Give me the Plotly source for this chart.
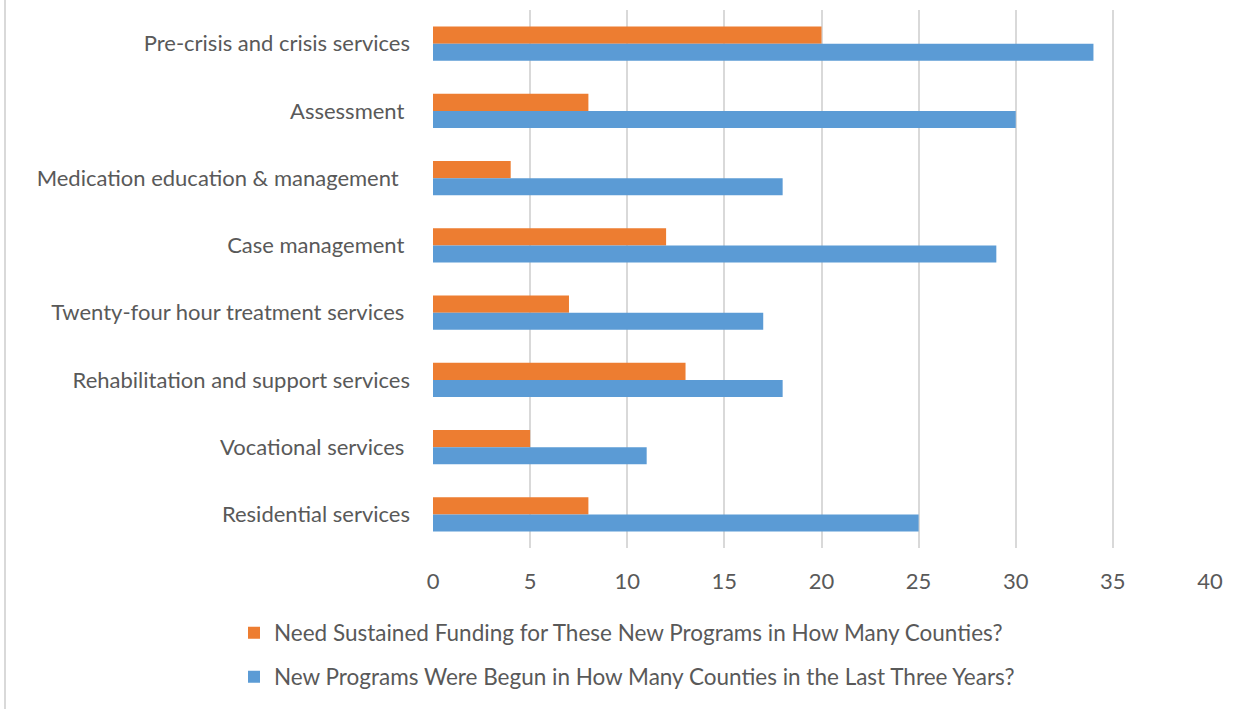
import plotly.graph_objects as go

categories = [
    "Pre-crisis and crisis services",
    "Assessment\u00a0",
    "Medication education & management\u00a0\u00a0",
    "Case management\u00a0",
    "Twenty-four hour treatment services\u00a0",
    "Rehabilitation and support services",
    "Vocational services\u00a0",
    "Residential services",
]
need_funding = [20, 8, 4, 12, 7, 13, 5, 8]
new_programs = [34, 30, 18, 29, 17, 18, 11, 25]
x_ticks = [0, 5, 10, 15, 20, 25, 30, 35, 40]

name_need = "Need Sustained Funding for These New Programs in How Many Counties?"
name_new = "New Programs Were Begun in How Many Counties in the Last Three Years?"

W, H = 1249, 709
ML, MR, MT, MB = 433, 39, 10, 161
PW = W - ML - MR
PH = H - MT - MB

FONT = "Lato"
TXT = "#595959"

fig = go.Figure()
fig.add_trace(go.Bar(
    y=categories, x=need_funding, orientation="h", name=name_need,
    marker=dict(color="#ED7D31", line=dict(width=0)), legend="legend",
))
fig.add_trace(go.Bar(
    y=categories, x=new_programs, orientation="h", name=name_new,
    marker=dict(color="#5B9BD5", line=dict(width=0)), legend="legend2",
))


def px_to_paper_x(px):
    return (px - ML) / PW


def px_to_paper_y(py):
    return 1 - (py - MT) / PH


legend_style = dict(
    font=dict(family=FONT, size=22.5, color=TXT),
    bgcolor="rgba(0,0,0,0)",
    itemwidth=30,
    xanchor="left",
    yanchor="middle",
)

fig.update_layout(
    width=W, height=H,
    margin=dict(l=ML, r=MR, t=MT, b=MB, pad=0),
    paper_bgcolor="white",
    plot_bgcolor="white",
    barmode="group",
    bargap=0.49,
    bargroupgap=0,
    font=dict(family=FONT, size=22, color=TXT),
    xaxis=dict(
        range=[0, 40], tickvals=x_ticks, showgrid=True,
        gridcolor="#D9D9D9", gridwidth=2, zeroline=False,
        showline=False, ticks="", ticklabelstandoff=18,
        tickfont=dict(family=FONT, size=22, color=TXT),
        fixedrange=True,
    ),
    yaxis=dict(
        categoryorder="array", categoryarray=categories,
        autorange="reversed", showgrid=False, zeroline=False,
        showline=False, ticks="", ticklabelstandoff=22,
        tickfont=dict(family=FONT, size=22, color=TXT),
        fixedrange=True,
    ),
    showlegend=True,
    legend=dict(x=px_to_paper_x(234), y=px_to_paper_y(633), **legend_style),
    legend2=dict(x=px_to_paper_x(234), y=px_to_paper_y(677), **legend_style),
    shapes=[
        dict(type="line", xref="paper", yref="paper",
             x0=px_to_paper_x(5), x1=px_to_paper_x(5),
             y0=px_to_paper_y(0), y1=px_to_paper_y(H),
             line=dict(color="#D9D9D9", width=2)),
    ],
)

fig.write_html("out.html")
